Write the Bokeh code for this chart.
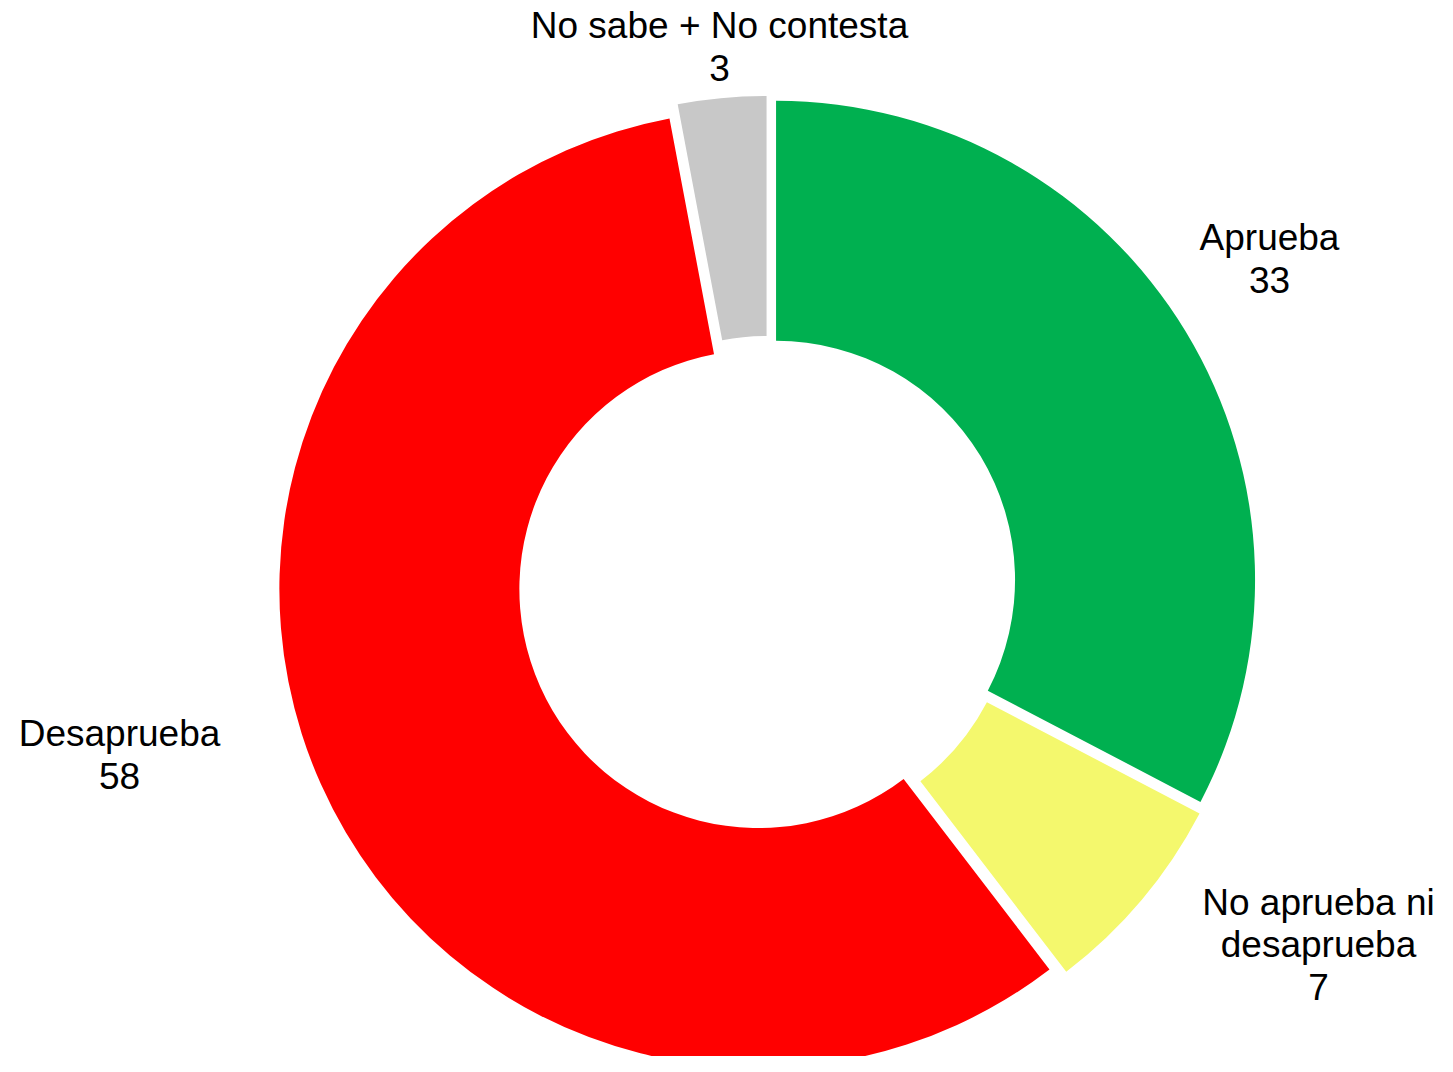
import math
from bokeh.plotting import figure
from bokeh.models import Range1d, ColumnDataSource
from bokeh.core.properties import value
from bokeh.embed import file_html
from bokeh.resources import INLINE

# ---- data ----
categories = ["Aprueba", "No aprueba ni desaprueba", "Desaprueba", "No sabe + No contesta"]
values = [33, 7, 58, 3]
colors = ["#00B050", "#F4F86D", "#FF0000", "#C8C8C8"]
label_lines = [["Aprueba", "33"],
               ["No aprueba ni", "desaprueba", "7"],
               ["Desaprueba", "58"],
               ["No sabe + No contesta", "3"]]

# ---- layout (image pixel coords, y measured downward) ----
W, H = 1437, 1056
IMG_H = 1072
cx, cy_img = 767.0, 584.5
R_OUT, R_IN = 479.0, 239.0
EXPLODE = 10.0
TEXT_SHIFT = 12  # compensate renderer baseline offset
label_pos = [(1269, 249), (1318, 914), (119, 745), (719, 37)]
LINE_STEP = 42

def ydata(y_img):
    return IMG_H - y_img

p = figure(width=W, height=H, output_backend="svg", toolbar_location=None,
           x_range=Range1d(0, W), y_range=Range1d(IMG_H - H, IMG_H),
           min_border=0, outline_line_color=None)
p.axis.visible = False
p.grid.visible = False
p.background_fill_color = "white"
p.border_fill_color = "white"

total = float(sum(values))
xs, ys, starts, ends = [], [], [], []
cum = 0.0
for v in values:
    t0 = cum / total * 2 * math.pi
    t1 = (cum + v) / total * 2 * math.pi
    tm = (t0 + t1) / 2
    xs.append(cx + EXPLODE * math.sin(tm))
    ys.append(ydata(cy_img) + EXPLODE * math.cos(tm))
    starts.append(math.pi / 2 - t1)
    ends.append(math.pi / 2 - t0)
    cum += v

src = ColumnDataSource(dict(x=xs, y=ys, start=starts, end=ends, color=colors, cat=categories))
p.annular_wedge(x="x", y="y", inner_radius=R_IN, outer_radius=R_OUT,
                start_angle="start", end_angle="end", fill_color="color",
                line_color=None, source=src)

tx, ty, tt = [], [], []
for (lx, ly), lines in zip(label_pos, label_lines):
    for i, ln in enumerate(lines):
        tx.append(lx)
        ty.append(ydata(ly + i * LINE_STEP - TEXT_SHIFT))
        tt.append(ln)
p.text(x=tx, y=ty, text=tt, text_font=value("Liberation Sans"), text_font_size="37px",
       text_align="center", text_baseline="alphabetic", text_color="black")

open("out.html", "w").write(file_html(p, INLINE))
